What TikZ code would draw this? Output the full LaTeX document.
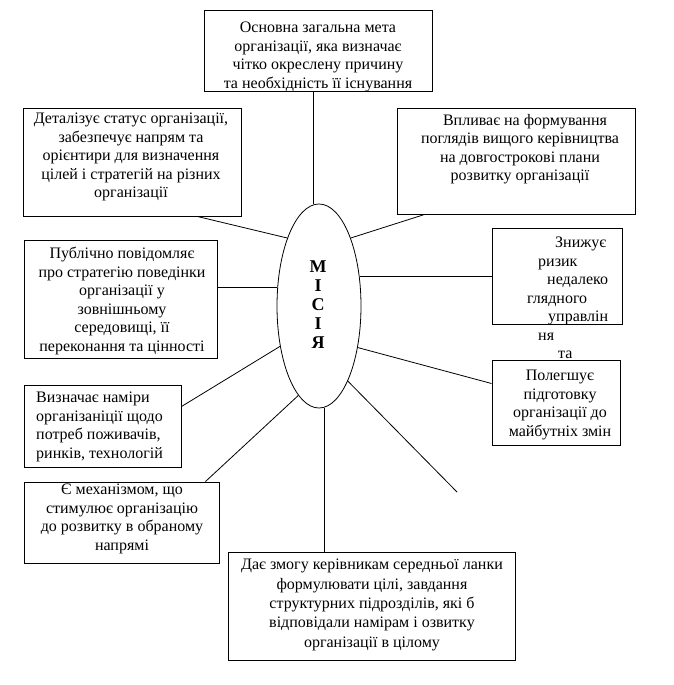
\documentclass[tikz,border=0pt]{standalone}
\usepackage{fontspec}
\setmainfont{Liberation Serif}
\usetikzlibrary{calc,shapes.geometric}
\begin{document}
\begin{tikzpicture}[x=1pt,y=-1pt,
  box/.style={draw,line width=1pt,inner sep=0pt,rectangle},
  txt/.style={inner sep=0pt,align=center,font=\fontsize{16}{18.5}\selectfont},
  conn/.style={line width=0.8pt}]
\fill[white] (0,0) rectangle (673,685);
\useasboundingbox (0,0) rectangle (673,685);
% mission ellipse
\node[draw,ellipse,line width=0.8pt,minimum width=84pt,minimum height=204pt,inner sep=0pt] (E) at (319,306) {};
\node[inner sep=0pt,align=center,font=\fontsize{18}{19}\selectfont\bfseries] (Et) at (318,305) {М\\І\\С\\І\\Я};
% boxes
\node[box,minimum width=228pt,minimum height=80pt] (tb) at (318,51) {};
\node[box,minimum width=218pt,minimum height=108pt] (b1) at (132,162) {};
\node[box,minimum width=238pt,minimum height=106pt] (b3) at (516,161) {};
\node[box,minimum width=193pt,minimum height=118pt] (b4) at (120.5,299) {};
\node[box,minimum width=130pt,minimum height=96pt] (b5) at (557,276) {};
\node[box,minimum width=128pt,minimum height=85pt] (b6) at (556,402.5) {};
\node[box,minimum width=157pt,minimum height=82pt] (b7) at (102.5,426) {};
\node[box,minimum width=195pt,minimum height=81pt] (b8) at (121.5,522.5) {};
\node[box,minimum width=287pt,minimum height=108pt] (b9) at (371.5,606) {};
% texts
\node[txt] (ttb) at (318,57) {Основна загальна мета\\організації, яка визначає\\чітко окреслену причину\\та необхідність її існування};
\node[txt] (tb1) at (131,157) {Деталізує статус організації,\\забезпечує напрям та\\орієнтири для визначення\\цілей і стратегій на різних\\організації};
\node[txt] (tb3) at (520,149) {\hspace*{10pt}Впливає на формування\\поглядів вищого керівництва\\на довгострокові плани\\розвитку організації};
\node[txt] (tb4) at (122,301) {Публічно повідомляє\\про стратегію поведінки\\організації у\\зовнішньому\\середовищі, її\\переконання та цінності};
\node[txt,align=left,anchor=west] (tb5) at (527,298) {\hspace*{28pt}Знижує\\\hspace*{11pt}ризик\\\hspace*{20pt}недалеко\\глядного\\\hspace*{21pt}управлін\\\hspace*{11pt}ня\\\hspace*{31pt}та};
\node[txt] (tb6) at (560,405) {Полегшує\\підготовку\\організації до\\майбутніх змін};
\node[txt,align=left,anchor=west] (tb7) at (36,427) {Визначає наміри\\організаніції щодо\\потреб поживачів,\\ринків, технологій};
\node[txt] (tb8) at (122,519) {Є механізмом, що\\стимулює організацію\\до розвитку в обраному\\напрямі};
\node[txt,font=\fontsize{16}{19.3}\selectfont] (tb9) at (372,605) {Дає змогу керівникам середньої ланки\\формулювати цілі, завдання\\структурних підрозділів, які б\\відповідали намірам і озвитку\\організації в цілому};
% connectors
\coordinate (dang) at (457,492);
\draw[conn] (E.93.4) -- (E.93.4 |- tb.south);
\draw[conn] (E.115.9) -- ($(b1.south west)+(175,0)$);
\draw[conn] (E.65.2) -- ($(b3.south west)+(28,0)$);
\draw[conn] (E.156.8) -- (E.156.8 -| b4.east);
\draw[conn] (E.36.2) -- (E.36.2 -| b5.west);
\draw[conn] (E.-47.9) -- ($(b6.north west)+(0,24)$);
\draw[conn] (E.226.4) -- ($(b7.north east)+(0,22)$);
\draw[conn] (E.257.1) -- ($(b8.north east)+(-14,0)$);
\draw[conn] (E.-69.4) -- (dang);
\draw[conn] (E.-87.2) -- (E.-87.2 |- b9.north);
\end{tikzpicture}
\end{document}
